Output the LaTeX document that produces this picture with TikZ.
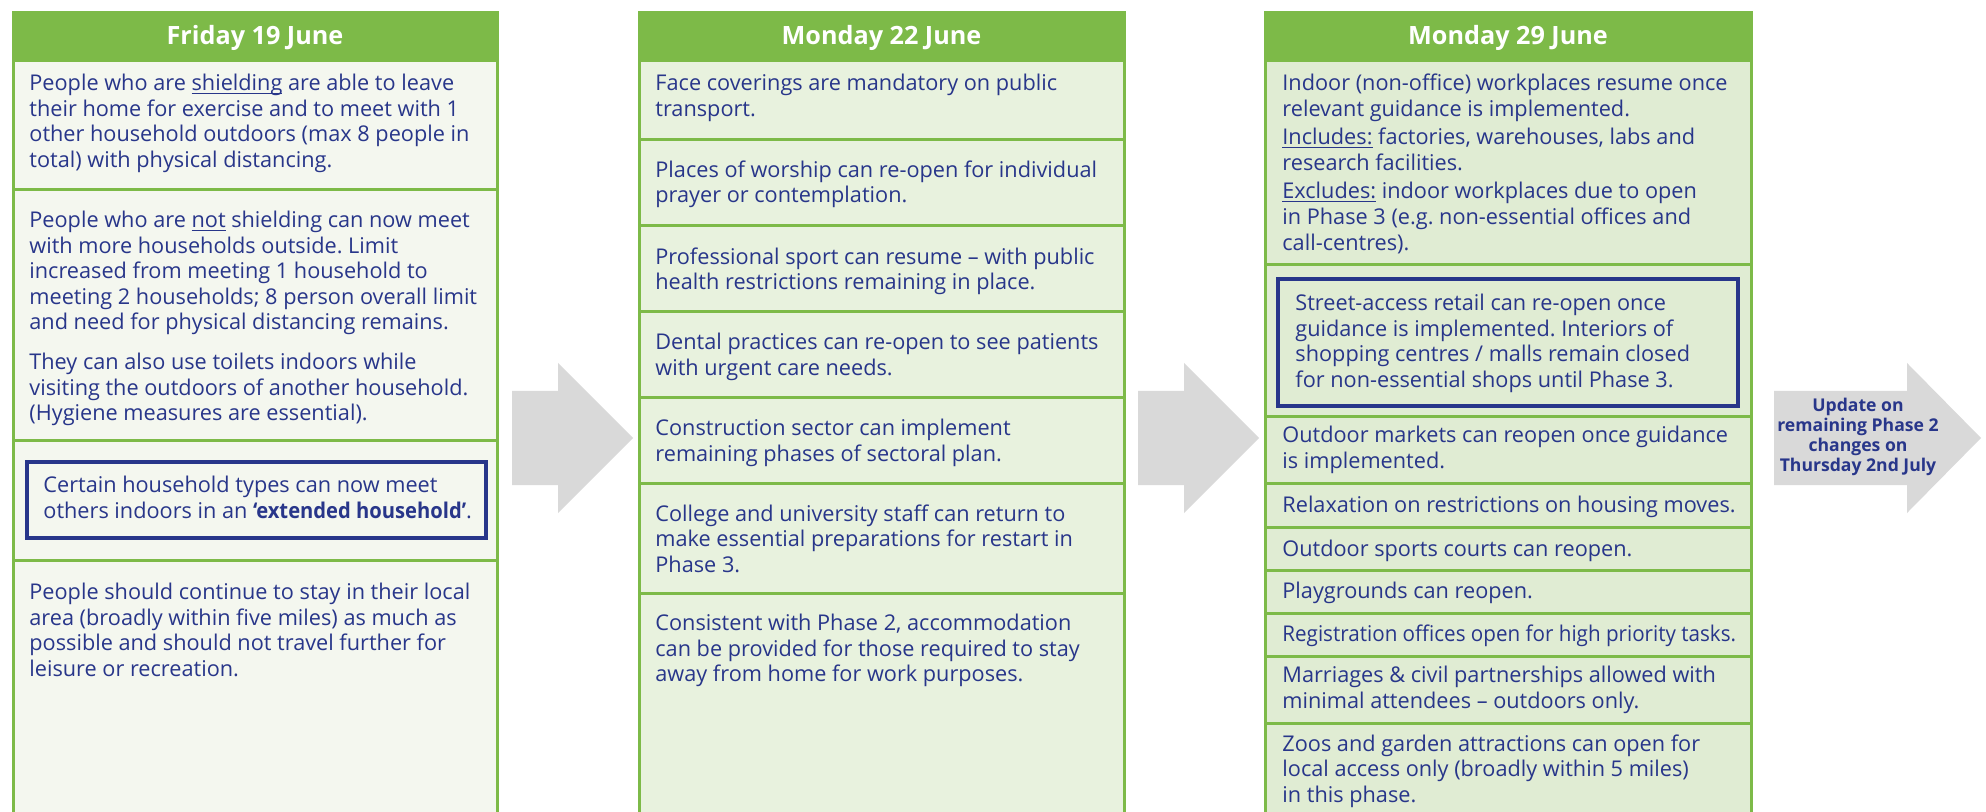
\documentclass[tikz,border=0pt]{standalone}
\usepackage{fontspec}
\usepackage{graphicx}
\usepackage{tikz}
\setmainfont{Open Sans}
\frenchspacing

\definecolor{hdrgreen}{RGB}{125,186,72}
\definecolor{bgone}{RGB}{244,247,239}
\definecolor{bgtwo}{RGB}{232,242,222}
\definecolor{bgthree}{RGB}{224,236,211}
\definecolor{navy}{RGB}{40,54,138}
\definecolor{arrowgray}{RGB}{217,217,217}

\newcommand{\itemfont}{\fontsize{10.85pt}{12.75pt}\selectfont}
\newcommand{\headfont}{\fontsize{12.6pt}{14pt}\selectfont\bfseries}
\newcommand{\notefont}{\fontsize{8.8pt}{10pt}\selectfont\bfseries}
\newcommand{\ulword}[1]{\underline{\smash{#1}}}

\begin{document}
\begin{tikzpicture}[x=0.5pt,y=-0.5pt,
  rule/.style={draw=hdrgreen,line width=1.5pt},
  keybox/.style={draw=navy,line width=1.75pt},
  item/.style={anchor=north west,align=left,inner sep=0pt,text=navy,font=\itemfont,
    execute at begin node=\rule{0pt}{9pt}},
  daytitle/.style={anchor=center,inner sep=0pt,text=white,font=\headfont}]
  \useasboundingbox (0,0) rectangle (1986,812);
  \clip (0,0) rectangle (1986,812);

  % Friday 19 June
  \fill[bgone] (13,13) rectangle (497,830);
  \fill[hdrgreen] (13,13) rectangle (497,62);
  \draw[rule] (13,190) -- (497,190);
  \draw[rule] (13,441) -- (497,441);
  \draw[rule] (13,560) -- (497,560);
  \draw[rule] (13,13) rectangle (497,830);
  \draw[keybox] (27,462) rectangle (486,538);

  \node[daytitle] (fri) at (255,37.5) {Friday 19 June};
  \node[item] (fri-1) at (29,74) {People who are \ulword{shielding} are able to leave\\their home for exercise and to meet with 1\\other household outdoors (max 8 people in\\total) with physical distancing.};
  \node[item] (fri-2) at (29,211) {People who are \ulword{not} shielding can now meet\\with more households outside. Limit\\increased from meeting 1 household to\\meeting 2 households; 8 person overall limit\\and need for physical distancing remains.\\[7.25pt]They can also use toilets indoors while\\visiting the outdoors of another household.\\(Hygiene measures are essential).};
  \node[item] (fri-3) at (43,476) {Certain household types can now meet\\others indoors in an \scalebox{0.93}[1]{\textbf{‘extended household’}}.};
  \node[item] (fri-4) at (29,583) {People should continue to stay in their local\\area (broadly within five miles) as much as\\possible and should not travel further for\\leisure or recreation.};

  % Monday 22 June
  \fill[bgtwo] (639,13) rectangle (1124,830);
  \fill[hdrgreen] (639,13) rectangle (1124,62);
  \foreach \y in {140,226,312,398,483,593}
    \draw[rule] (639,\y) -- (1124,\y);
  \draw[rule] (639,13) rectangle (1124,830);

  \node[daytitle] (mon22) at (881.5,37.5) {Monday 22 June};
  \node[item] (mon22-1) at (655,74) {Face coverings are mandatory on public\\transport.};
  \node[item] (mon22-2) at (655,160) {Places of worship can re-open for individual\\prayer or contemplation.};
  \node[item] (mon22-3) at (655,247) {Professional sport can resume – with public\\health restrictions remaining in place.};
  \node[item] (mon22-4) at (655,333) {Dental practices can re-open to see patients\\with urgent care needs.};
  \node[item] (mon22-5) at (655,419) {Construction sector can implement\\remaining phases of sectoral plan.};
  \node[item] (mon22-6) at (655,504) {College and university staff can return to\\make essential preparations for restart in\\Phase 3.};
  \node[item] (mon22-7) at (655,614) {Consistent with Phase 2, accommodation\\can be provided for those required to stay\\away from home for work purposes.};

  % Monday 29 June
  \fill[bgthree] (1265,13) rectangle (1751,830);
  \fill[hdrgreen] (1265,13) rectangle (1751,62);
  \foreach \y in {265,417,483,527,570,613,656,723}
    \draw[rule] (1265,\y) -- (1751,\y);
  \draw[rule] (1265,13) rectangle (1751,830);
  \draw[keybox] (1278,279) rectangle (1738,406);

  \node[daytitle] (mon29) at (1508,37.5) {Monday 29 June};
  \node[item] (mon29-1) at (1282,74) {Indoor (non-office) workplaces resume once\\relevant guidance is implemented.\\[1.5pt]\ulword{Includes:} factories, warehouses, labs and\\research facilities.\\[1.5pt]\ulword{Excludes:} indoor workplaces due to open\\in Phase 3 (e.g. non-essential offices and\\call-centres).};
  \node[item] (mon29-2) at (1295,294) {Street-access retail can re-open once\\guidance is implemented. Interiors of\\shopping centres / malls remain closed\\for non-essential shops until Phase 3.};
  \node[item] (mon29-3) at (1282,426) {Outdoor markets can reopen once guidance\\is implemented.};
  \node[item] (mon29-4) at (1282,494) {Relaxation on restrictions on housing moves.};
  \node[item] (mon29-5) at (1282,538) {Outdoor sports courts can reopen.};
  \node[item] (mon29-6) at (1282,580) {Playgrounds can reopen.};
  \node[item] (mon29-7) at (1282,623) {\scalebox{0.95}[1]{Registration offices open for high priority tasks.}};
  \node[item] (mon29-8) at (1282,666) {Marriages \& civil partnerships allowed with\\minimal attendees – outdoors only.};
  \node[item] (mon29-9) at (1282,734) {Zoos and garden attractions can open for\\local access only (broadly within 5 miles)\\in this phase.};

  % arrows between the days
  \foreach \dx in {0,626}
    \fill[arrowgray,xshift=\dx*0.5pt] (512,391) -- (558,391) -- (558,363) -- (633,438)
      -- (558,513) -- (558,485) -- (512,485) -- cycle;
  \fill[arrowgray] (1774,391) -- (1907,391) -- (1907,363) -- (1981,438)
    -- (1907,513) -- (1907,485) -- (1774,485) -- cycle;
  \node[align=center,inner sep=0pt,text=navy,font=\notefont] (next) at (1858,437)
    {Update on\\remaining Phase 2\\changes on\\Thursday 2nd July};
\end{tikzpicture}
\end{document}
